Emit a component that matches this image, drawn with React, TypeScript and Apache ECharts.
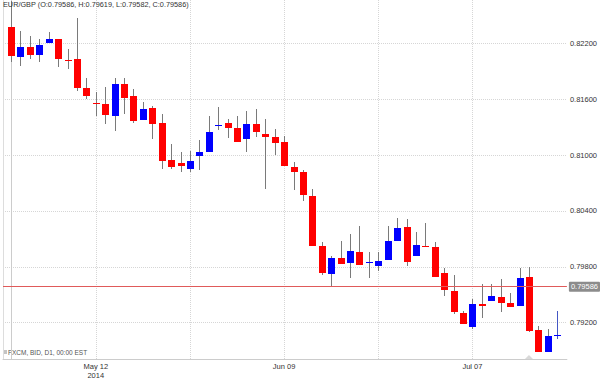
import React, { useEffect, useRef } from "react";
import * as echarts from "echarts";

const dates = [
  "2014-04-29", "2014-04-30", "2014-05-01", "2014-05-02", "2014-05-05", "2014-05-06", "2014-05-07", "2014-05-08", "2014-05-09", "2014-05-12",
  "2014-05-13", "2014-05-14", "2014-05-15", "2014-05-16", "2014-05-19", "2014-05-20", "2014-05-21", "2014-05-22", "2014-05-23", "2014-05-26",
  "2014-05-27", "2014-05-28", "2014-05-29", "2014-05-30", "2014-06-02", "2014-06-03", "2014-06-04", "2014-06-05", "2014-06-06", "2014-06-09",
  "2014-06-10", "2014-06-11", "2014-06-12", "2014-06-13", "2014-06-16", "2014-06-17", "2014-06-18", "2014-06-19", "2014-06-20", "2014-06-23",
  "2014-06-24", "2014-06-25", "2014-06-26", "2014-06-27", "2014-06-30", "2014-07-01", "2014-07-02", "2014-07-03", "2014-07-04", "2014-07-07",
  "2014-07-08", "2014-07-09", "2014-07-10", "2014-07-11", "2014-07-14", "2014-07-15", "2014-07-16", "2014-07-17", "2014-07-18",
];

const opens = [
  0.82382, 0.8205, 0.82157, 0.82072, 0.822, 0.82243, 0.82022, 0.82029, 0.81718, 0.8156,
  0.81546, 0.81418, 0.81761, 0.81632, 0.81375, 0.81504, 0.81343, 0.80946, 0.80914, 0.8085,
  0.80989, 0.81032, 0.81318, 0.81343, 0.81289, 0.81171, 0.81332, 0.81225, 0.81193, 0.81139,
  0.80871, 0.80818, 0.80561, 0.80025, 0.79725, 0.79896, 0.79843, 0.79961, 0.79852, 0.79811,
  0.79875, 0.80079, 0.80229, 0.79918, 0.80027, 0.80014, 0.79736, 0.79543, 0.79307, 0.79157,
  0.79404, 0.79436, 0.79479, 0.79414, 0.79382, 0.79693, 0.79125, 0.78889, 0.79068,
];
const closes = [
  0.82061, 0.82157, 0.82072, 0.82179, 0.82243, 0.82029, 0.82018, 0.81718, 0.81632, 0.81557,
  0.81429, 0.81761, 0.81611, 0.81364, 0.81493, 0.81332, 0.80936, 0.80871, 0.80882, 0.80936,
  0.81032, 0.81246, 0.81321, 0.81289, 0.81139, 0.81332, 0.81246, 0.81193, 0.81129, 0.80882,
  0.80818, 0.80571, 0.80025, 0.79736, 0.79896, 0.79832, 0.79971, 0.79821, 0.79854, 0.79864,
  0.80079, 0.80218, 0.79854, 0.80036, 0.80025, 0.79693, 0.79554, 0.79318, 0.79189, 0.79404,
  0.79382, 0.79489, 0.79414, 0.79371, 0.79682, 0.79114, 0.78889, 0.79061, 0.79071,
];
const highs = [
  0.82661, 0.82339, 0.82275, 0.82243, 0.82318, 0.8225, 0.82136, 0.82479, 0.81825, 0.81675,
  0.81729, 0.81825, 0.81825, 0.81707, 0.81568, 0.81525, 0.81439, 0.81118, 0.81032, 0.81043,
  0.81161, 0.81418, 0.81514, 0.81386, 0.81418, 0.81471, 0.81493, 0.81386, 0.81279, 0.81204,
  0.80925, 0.80839, 0.80636, 0.80068, 0.79918, 0.80079, 0.80154, 0.80239, 0.79961, 0.79961,
  0.80239, 0.80325, 0.80314, 0.80175, 0.80271, 0.80068, 0.79789, 0.79714, 0.79329, 0.79457,
  0.79618, 0.79618, 0.79671, 0.79521, 0.79789, 0.798, 0.79168, 0.79136, 0.79329,
];
const lows = [
  0.81997, 0.81954, 0.82029, 0.81997, 0.822, 0.81943, 0.81922, 0.81686, 0.816, 0.81418,
  0.81332, 0.81257, 0.81439, 0.81343, 0.81375, 0.81171, 0.8085, 0.8085, 0.80818, 0.80818,
  0.80839, 0.81032, 0.81268, 0.81182, 0.81139, 0.81032, 0.81193, 0.80636, 0.81, 0.80882,
  0.80625, 0.80507, 0.80025, 0.79714, 0.79596, 0.79832, 0.79682, 0.79821, 0.79682, 0.79757,
  0.79875, 0.80079, 0.79811, 0.79918, 0.80025, 0.79693, 0.79489, 0.79296, 0.79189, 0.79136,
  0.79254, 0.79436, 0.79318, 0.79371, 0.79382, 0.79104, 0.78889, 0.78879, 0.79029,
];

const yTickValues = [0.792, 0.798, 0.804, 0.81, 0.816, 0.822];
const xGridIndices = [9, 19, 29, 39, 49];
const xLabelIndices = [9, 29, 49];
const lastPrice = 0.79586;
const titleText = "EUR/GBP (O:0.79586, H:0.79619, L:0.79582, C:0.79586)";
const footerText = "FXCM, BID, D1, 00:00 EST";
const eventIndices = [55];
const monthNames = ["Jan", "Feb", "Mar", "Apr", "May", "Jun", "Jul", "Aug", "Sep", "Oct", "Nov", "Dec"];

const FONT = "'Liberation Sans', Arial, sans-serif";

export default function App() {
  const ref = useRef<HTMLDivElement>(null);
  useEffect(() => {
    const chart = echarts.init(ref.current!, null, { renderer: "svg" });
    const yMin = 0.788091;
    const yMax = 0.826671;
    const data = dates.map((d, i) => [i, opens[i], closes[i], lows[i], highs[i]]);
    const fmtDate = (idx: number) => {
      const d = dates[Math.round(idx)];
      if (!d) return "";
      const [y, m, dd] = d.split("-");
      const s = monthNames[parseInt(m, 10) - 1] + " " + dd;
      return Math.round(idx) === xLabelIndices[0] ? s + "\n" + y : s;
    };
    chart.setOption({
      animation: false,
      backgroundColor: "#ffffff",
      title: {
        text: titleText,
        left: 3,
        top: 1,
        padding: 0,
        textStyle: { fontSize: 7.3, fontWeight: "normal", color: "#333", fontFamily: FONT },
      },
      grid: { left: 3, right: 30, top: 0, bottom: 20 },
      xAxis: {
        type: "value",
        min: -0.85,
        max: 59.03,
        axisLine: { show: true, onZero: false, lineStyle: { color: "#cccccc", width: 1 } },
        axisTick: { show: false, customValues: xGridIndices },
        axisLabel: {
          customValues: xLabelIndices,
          formatter: (v: number) => fmtDate(v),
          fontSize: 7.5,
          lineHeight: 9,
          color: "#333",
          fontFamily: FONT,
          margin: 3,
        },
        splitLine: { show: true, lineStyle: { color: "#d6d6d6", type: "dotted", width: 1 } },
      },
      yAxis: [
        {
          type: "value",
          position: "right",
          min: yMin,
          max: yMax,
          axisLine: { show: true, lineStyle: { color: "#cccccc", width: 1 } },
          axisTick: { show: false, customValues: yTickValues },
          axisLabel: {
            customValues: yTickValues,
            formatter: (v: number) => v.toFixed(5),
            fontSize: 7.5,
            color: "#333",
            fontFamily: FONT,
            margin: 3,
          },
          splitLine: { show: true, lineStyle: { color: "#d6d6d6", type: "dotted", width: 1 } },
        },
        {
          type: "value",
          position: "left",
          min: yMin,
          max: yMax,
          axisLine: { show: true, lineStyle: { color: "#dddddd", width: 1 } },
          axisTick: { show: false },
          axisLabel: { show: false },
          splitLine: { show: false },
        },
      ],
      series: [
        {
          type: "custom",
          xAxisIndex: 0,
          yAxisIndex: 0,
          data,
          encode: { x: 0, y: [1, 2, 3, 4] },
          clip: true,
          renderItem: (params: any, api: any) => {
            const i = api.value(0);
            const o = api.value(1);
            const c = api.value(2);
            const l = api.value(3);
            const h = api.value(4);
            const pO = api.coord([i, o]);
            const pC = api.coord([i, c]);
            const pL = api.coord([i, l]);
            const pH = api.coord([i, h]);
            const up = c >= o;
            const color = up ? "#0000ff" : "#ff0000";
            const cx = Math.round(pO[0]);
            const top = Math.round(Math.min(pO[1], pC[1]));
            const bot = Math.round(Math.max(pO[1], pC[1]));
            const hgt = Math.max(bot - top, 1);
            const isLast = params.dataIndex === dates.length - 1;
            return {
              type: "group",
              children: [
                {
                  type: "line",
                  shape: { x1: cx + 0.5, y1: Math.round(pH[1]), x2: cx + 0.5, y2: Math.round(pL[1]) },
                  style: { stroke: isLast ? "#4456c4" : "#7a7a7a", lineWidth: 1 },
                },
                {
                  type: "rect",
                  shape: { x: cx - 3, y: top, width: 7, height: hgt },
                  style: { fill: color, stroke: null },
                },
              ],
            };
          },
        },
        {
          type: "scatter",
          xAxisIndex: 0,
          yAxisIndex: 0,
          symbol: "triangle",
          symbolSize: [8, 4],
          itemStyle: { color: "#d0d0d0" },
          silent: true,
          data: eventIndices.map((i) => [i, yMin + 2 / 9333]),
          markLine: {
            silent: true,
            precision: 5,
            symbol: ["none", "none"],
            lineStyle: { color: "#e05a5a", width: 1, type: "solid" },
            label: {
              show: true,
              position: "end",
              distance: 2,
              formatter: () => lastPrice.toFixed(5),
              backgroundColor: "#8c8c8c",
              color: "#ffffff",
              fontSize: 7.5,
              fontFamily: FONT,
              padding: [1, 2, 1, 2],
              borderRadius: 1,
            },
            data: [{ yAxis: lastPrice }],
          },
        },
      ],
      graphic: [
        { type: "rect", left: 4, top: 350, shape: { width: 3, height: 4 }, style: { fill: "#c4c4c4" } },
        {
          type: "text",
          left: 8,
          top: 349,
          style: { text: footerText, fontSize: 6.5, fill: "#555", fontFamily: FONT },
        },
      ],
    });
    return () => chart.dispose();
  }, []);
  return (
    <div
      ref={ref}
      style={{ position: "fixed", left: 0, top: 0, width: 600, height: 380, background: "#fff" }}
    />
  );
}
